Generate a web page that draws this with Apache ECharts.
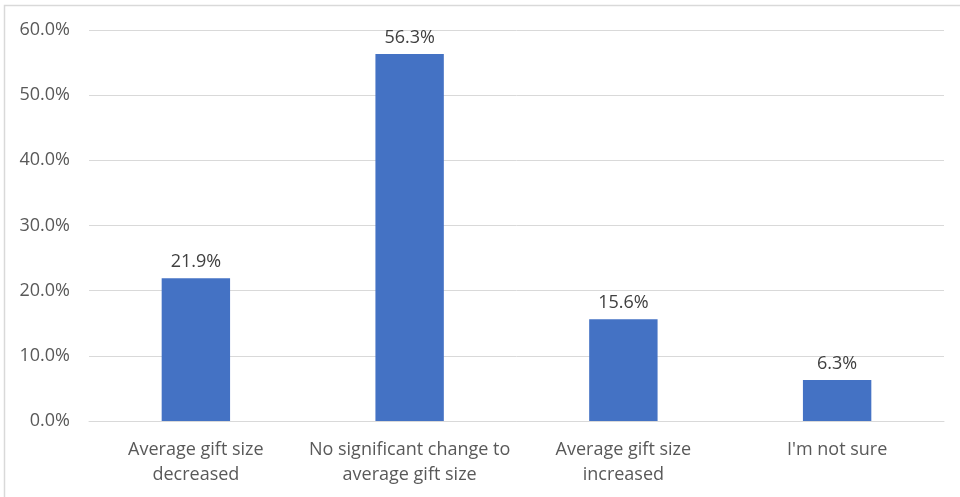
<!DOCTYPE html>
<html>
<head>
<meta charset="utf-8">
<script src="https://cdn.jsdelivr.net/npm/echarts@6/dist/echarts.min.js"></script>
<style>
  html, body { margin: 0; padding: 0; background: #fff; }
  #chart { width: 960px; height: 497px; }
</style>
</head>
<body>
<div id="chart"></div>
<script>
// Survey responses: change in average gift size
const categories = [
  'Average gift size\ndecreased',
  'No significant change to\naverage gift size',
  'Average gift size\nincreased',
  "I'm not sure"
];
const shares = [21.9, 56.3, 15.6, 6.3];
const yTicks = { min: 0, max: 60, interval: 10 };

const FONT = '"Open Sans", "Noto Sans", sans-serif';
const TEXT = '#595959';

const chart = echarts.init(document.getElementById('chart'), null, { renderer: 'canvas' });
chart.setOption({
  animation: false,
  backgroundColor: '#fff',
  graphic: [{
    type: 'rect',
    shape: { x: 4.5, y: 5.5, width: 980, height: 520 },
    style: { fill: 'none', stroke: '#d9d9d9', lineWidth: 1.5 },
    silent: true
  }],
  grid: { left: 89, right: 16, top: 30, bottom: 76 },
  xAxis: {
    type: 'category',
    data: categories,
    axisLine: { show: true, lineStyle: { color: '#d9d9d9', width: 1 } },
    axisTick: { show: false },
    axisLabel: {
      color: TEXT, fontFamily: FONT, fontSize: 18,
      lineHeight: 25, margin: 16, interval: 0
    }
  },
  yAxis: {
    type: 'value',
    min: yTicks.min, max: yTicks.max, interval: yTicks.interval,
    axisLine: { show: false },
    axisTick: { show: false },
    splitLine: { lineStyle: { color: '#d9d9d9', width: 1 } },
    axisLabel: {
      color: TEXT, fontFamily: FONT, fontSize: 18, margin: 19,
      formatter: v => v.toFixed(1) + '%'
    }
  },
  series: [{
    type: 'bar',
    data: shares,
    barWidth: '32%',
    itemStyle: { color: '#4472C4' },
    label: {
      show: true, position: 'top', distance: 7,
      color: '#404040', fontFamily: FONT, fontSize: 18,
      formatter: p => p.value.toFixed(1) + '%'
    }
  }]
});
</script>
</body>
</html>
